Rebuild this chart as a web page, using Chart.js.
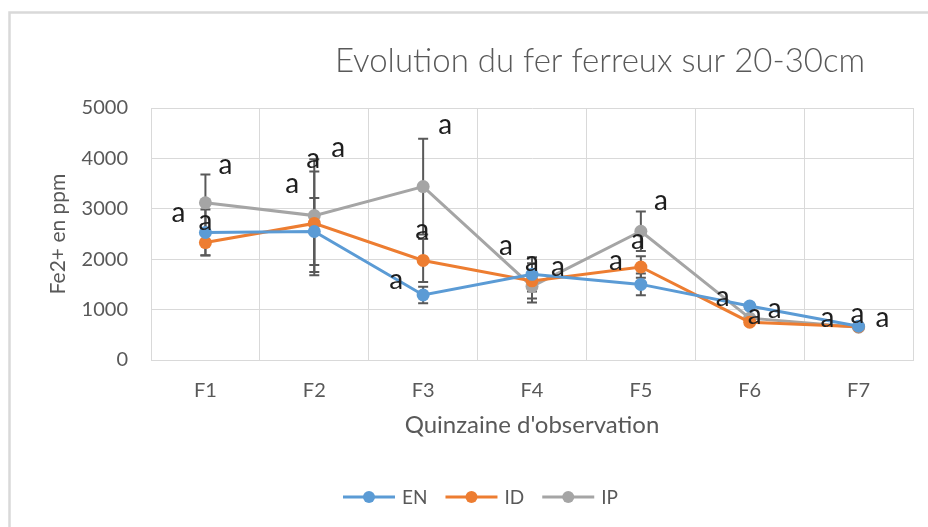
<!DOCTYPE html>
<html>
<head>
<meta charset="utf-8">
<script src="https://cdn.jsdelivr.net/npm/chart.js@4"></script>
<style>
  body { margin: 0; background: #fff; }
  #wrap { width: 928px; height: 527px; }
</style>
</head>
<body>
<div id="wrap"><canvas id="chart"></canvas></div>
<script>
// Data
const categories = ['F1', 'F2', 'F3', 'F4', 'F5', 'F6', 'F7'];
const yTicks = [0, 1000, 2000, 3000, 4000, 5000];

const enValues = [2530, 2550, 1290, 1700, 1500, 1070, 670];
const idValues = [2330, 2710, 1975, 1570, 1845, 750, 660];
const ipValues = [3120, 2865, 3440, 1460, 2555, 830, 650];

const enErrors = [455, 665, 165, 340, 215, 60, 30];
const idErrors = [250, 1030, 425, 350, 215, 50, 30];
const ipErrors = [560, 1120, 950, 320, 390, 40, 30];

// significance letters
const enLetters = ['a', 'a', 'a', 'a', 'a', 'a', 'a'];
const idLetters = ['a', 'a', 'a', 'a', 'a', 'a', 'a'];
const ipLetters = ['a', 'a', 'a', 'a', 'a', 'a', 'a'];

// \u200C stops Lato from joining "ti" into a ligature
const chartTitle = 'Evolu\u200Ction du fer ferreux sur 20-30cm';
const xTitle = "Quinzaine d'observa\u200Ction";
const yTitle = 'Fe2+ en ppm';

const FONT = 'Lato, "Open Sans", sans-serif';
const TEXT = '#595959';
const GRID = '#d9d9d9';

// where each letter sits relative to its point (pixels)
const letterOffsets = {
  EN: [[-27, -17], [-22, -45], [-27, -13], [-26, -26], [-25, -21], [-27, -7], [-31, -6]],
  ID: [[0, -20], [-1, -62], [-1, -28], [0, -17], [-3, -25], [5, -5], [-1, -11]],
  IP: [[20, -36], [24, -66], [22, -60], [26, -17], [20, -28], [25, -7], [24, -7]]
};

const makeSeries = (label, data, color, errors, letters) => ({
  label,
  data,
  errors,
  letters,
  borderColor: color,
  backgroundColor: color,
  borderWidth: 3,
  pointRadius: 6.5,
  pointHoverRadius: 6.5,
  pointBorderWidth: 0,
  tension: 0
});

// error bars under the lines
const errorBars = {
  id: 'errorBars',
  beforeDatasetsDraw(chart) {
    const { ctx, scales: { y } } = chart;
    ctx.save();
    ctx.strokeStyle = '#595959';
    ctx.lineWidth = 2;
    chart.data.datasets.forEach((ds, i) => {
      chart.getDatasetMeta(i).data.forEach((pt, j) => {
        const v = ds.data[j], e = ds.errors[j];
        const top = y.getPixelForValue(v + e);
        const bot = y.getPixelForValue(v - e);
        ctx.beginPath();
        ctx.moveTo(pt.x, top); ctx.lineTo(pt.x, bot);
        ctx.moveTo(pt.x - 5, top); ctx.lineTo(pt.x + 5, top);
        ctx.moveTo(pt.x - 5, bot); ctx.lineTo(pt.x + 5, bot);
        ctx.stroke();
      });
    });
    ctx.restore();
  }
};

// letters, title, legend and frame
const decorations = {
  id: 'decorations',
  beforeDraw(chart) {
    const { ctx } = chart;
    ctx.save();
    ctx.strokeStyle = GRID;
    ctx.lineWidth = 2.5;
    ctx.strokeRect(9.5, 12.5, 1000, 600);
    ctx.restore();
  },
  afterDraw(chart) {
    const { ctx } = chart;
    ctx.save();
    // letters
    ctx.font = '28px ' + FONT;
    ctx.fillStyle = '#1e1e1e';
    ctx.textAlign = 'center';
    ctx.textBaseline = 'alphabetic';
    chart.data.datasets.forEach((ds, i) => {
      const offs = letterOffsets[ds.label];
      chart.getDatasetMeta(i).data.forEach((pt, j) => {
        ctx.fillText(ds.letters[j], pt.x + offs[j][0], pt.y + offs[j][1] + 7);
      });
    });

    // title
    ctx.font = '300 33px ' + FONT;
    ctx.fillStyle = TEXT;
    ctx.fillText(chartTitle, 600, 72);

    // legend
    ctx.font = '19px ' + FONT;
    ctx.textAlign = 'left';
    ctx.textBaseline = 'middle';
    let x = 343;
    const y = 497;
    chart.data.datasets.forEach(ds => {
      ctx.strokeStyle = ds.borderColor;
      ctx.fillStyle = ds.borderColor;
      ctx.lineWidth = 3;
      ctx.beginPath();
      ctx.moveTo(x, y); ctx.lineTo(x + 52, y);
      ctx.stroke();
      ctx.beginPath();
      ctx.arc(x + 26, y, 6, 0, Math.PI * 2);
      ctx.fill();
      ctx.fillStyle = TEXT;
      ctx.fillText(ds.label, x + 59, y + 1);
      x += 59 + ctx.measureText(ds.label).width + 18;
    });
    ctx.restore();
  }
};

new Chart(document.getElementById('chart'), {
  type: 'line',
  data: {
    labels: categories,
    datasets: [
      makeSeries('EN', enValues, '#5B9BD5', enErrors, enLetters),
      makeSeries('ID', idValues, '#ED7D31', idErrors, idLetters),
      makeSeries('IP', ipValues, '#A5A5A5', ipErrors, ipLetters)
    ]
  },
  options: {
    responsive: true,
    maintainAspectRatio: false,
    animation: false,
    layout: { padding: { left: 40, top: 108, right: 15, bottom: 87 } },
    plugins: {
      legend: { display: false },
      title: { display: false },
      tooltip: { enabled: false }
    },
    scales: {
      x: {
        offset: true,
        grid: { offset: true, color: GRID, drawTicks: false },
        border: { display: true, color: GRID },
        ticks: { color: TEXT, font: { family: FONT, size: 20 }, padding: 19 },
        title: {
          display: true,
          text: xTitle,
          color: TEXT,
          font: { family: FONT, size: 24 },
          padding: 0
        },
        afterFit(scale) { scale.height = 80; }
      },
      y: {
        min: 0,
        max: 5000,
        afterBuildTicks(scale) { scale.ticks = yTicks.map(v => ({ value: v })); },
        grid: { color: GRID, drawTicks: false },
        border: { display: true, color: GRID },
        ticks: {
          color: TEXT,
          font: { family: FONT, size: 20 },
          padding: 23,
          callback: v => String(v)
        },
        title: {
          display: true,
          text: yTitle,
          color: TEXT,
          font: { family: FONT, size: 21 },
          padding: { top: 6, bottom: 0 }
        },
        afterFit(scale) { scale.width = 111; }
      }
    }
  },
  plugins: [errorBars, decorations]
});
</script>
</body>
</html>
